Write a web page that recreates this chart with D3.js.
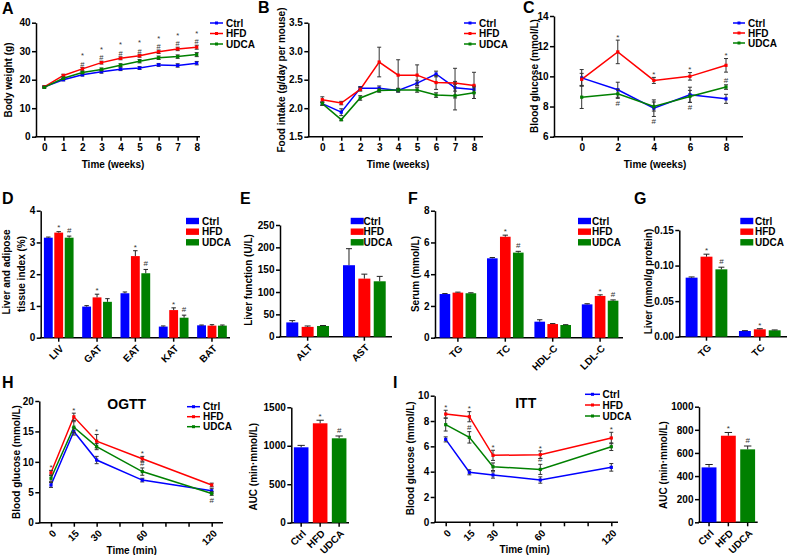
<!DOCTYPE html>
<html><head><meta charset="utf-8">
<script src="https://cdn.jsdelivr.net/npm/d3@7/dist/d3.min.js"></script>
<style>html,body{margin:0;padding:0;background:#fff;}svg{display:block;}</style>
</head><body>
<svg id="chart" width="787" height="555"></svg>
<script>
// ---------------- data ----------------
const groups = ["Ctrl", "HFD", "UDCA"];
const colors = ["#0000ff", "#ff0000", "#008000"];

// A: body weight (g)
const weeks = [0, 1, 2, 3, 4, 5, 6, 7, 8];
const bwCtrl = [17.5, 20.0, 21.7, 22.8, 23.7, 24.1, 25.2, 25.0, 25.8];
const bwHFD  = [17.5, 21.5, 23.8, 26.0, 27.5, 28.4, 29.8, 30.8, 31.4];
const bwUDCA = [17.3, 20.5, 22.5, 23.6, 25.1, 26.5, 27.7, 28.1, 28.8];
const bwErrCtrl = [0.3, 0.4, 0.4, 0.5, 0.5, 0.5, 0.5, 0.6, 0.6];
const bwErrHFD  = [0.3, 0.4, 0.5, 0.5, 0.5, 0.5, 0.6, 0.6, 0.7];
const bwErrUDCA = [0.3, 0.4, 0.4, 0.5, 0.5, 0.6, 0.6, 0.6, 0.7];
const bwTicks = [0, 10, 20, 30, 40];
// stacked marks ("*" over "#") above HFD
const bwMarks = [
  {x: 2, s: ["*", "#"], g: 1}, {x: 3, s: ["*", "#"], g: 1}, {x: 4, s: ["*", "#"], g: 1},
  {x: 5, s: ["*", "#"], g: 1}, {x: 6, s: ["*", "#"], g: 1}, {x: 7, s: ["*", "#"], g: 1},
  {x: 8, s: ["*", "#"], g: 1}
];

// B: food intake (g/day per mouse)
const fiCtrl = [2.08, 1.93, 2.35, 2.35, 2.31, 2.44, 2.60, 2.36, 2.33];
const fiHFD  = [2.15, 2.09, 2.33, 2.81, 2.58, 2.58, 2.45, 2.44, 2.40];
const fiUDCA = [2.08, 1.80, 2.18, 2.31, 2.32, 2.32, 2.23, 2.22, 2.27];
const fiErrCtrl = [0.03, 0.06, 0.03, 0.04, 0.03, 0.05, 0.05, 0.06, 0.06];
const fiErrHFD  = [0.05, 0.03, 0.03, 0.26, 0.27, 0.18, 0.12, 0.26, 0.23];
const fiErrUDCA = [0.03, 0.02, 0.04, 0.03, 0.03, 0.04, 0.04, 0.25, 0.10];
const fiTicks = [1.5, 2.0, 2.5, 3.0, 3.5];

// C: blood glucose (mmol/L)
const bgWeeks = [0, 2, 4, 6, 8];
const bgCtrl = [9.90, 9.11, 7.89, 8.78, 8.51];
const bgHFD  = [9.80, 11.62, 9.73, 10.00, 10.73];
const bgUDCA = [8.62, 8.84, 8.00, 8.67, 9.29];
const bgErrCtrl = [0.55, 0.50, 0.55, 0.50, 0.30];
const bgErrHFD  = [0.40, 0.78, 0.20, 0.25, 0.45];
const bgErrUDCA = [0.75, 0.30, 0.30, 0.40, 0.15];
const bgTicks = [6, 8, 10, 12, 14];
const bgMarks = [
  {x: 2, s: "*", g: 1, side: "above"}, {x: 4, s: "*", g: 1, side: "above"},
  {x: 6, s: "*", g: 1, side: "above"}, {x: 8, s: "*", g: 1, side: "above"},
  {x: 2, s: "#", g: 2, side: "below"}, {x: 4, s: "#", g: 0, side: "below"},
  {x: 6, s: "#", g: 2, side: "below"}, {x: 8, s: "#", g: 2, side: "above"}
];

// D: liver and adipose tissue index (%)
const tissueCats = ["LIV", "GAT", "EAT", "KAT", "BAT"];
const tissueCtrl = [3.15, 0.98, 1.40, 0.35, 0.39];
const tissueHFD  = [3.31, 1.27, 2.57, 0.87, 0.38];
const tissueUDCA = [3.15, 1.13, 2.03, 0.63, 0.38];
const tissueErrCtrl = [0.02, 0.03, 0.04, 0.02, 0.01];
const tissueErrHFD  = [0.03, 0.10, 0.17, 0.07, 0.03];
const tissueErrUDCA = [0.05, 0.10, 0.12, 0.08, 0.02];
const tissueMarks = [
  {c: 0, g: 1, s: "*"}, {c: 0, g: 2, s: "#"}, {c: 1, g: 1, s: "*"},
  {c: 2, g: 1, s: "*"}, {c: 2, g: 2, s: "#"}, {c: 3, g: 1, s: "*"}, {c: 3, g: 2, s: "#"}
];

// E: liver function (U/L)
const lfCats = ["ALT", "AST"];
const lfCtrl = [32, 160];
const lfHFD  = [22, 130];
const lfUDCA = [24, 124];
const lfErrCtrl = [4, 37];
const lfErrHFD  = [2, 10];
const lfErrUDCA = [1, 11];

// F: serum (mmol/L)
const serumCats = ["TG", "TC", "HDL-C", "LDL-C"];
const serumCtrl = [2.75, 5.00, 1.01, 2.10];
const serumHFD  = [2.84, 6.36, 0.86, 2.63];
const serumUDCA = [2.80, 5.36, 0.80, 2.33];
const serumErrCtrl = [0.03, 0.05, 0.12, 0.04];
const serumErrHFD  = [0.03, 0.10, 0.03, 0.07];
const serumErrUDCA = [0.03, 0.08, 0.02, 0.05];
const serumMarks = [{c: 1, g: 1, s: "*"}, {c: 1, g: 2, s: "#"}, {c: 3, g: 1, s: "*"}, {c: 3, g: 2, s: "#"}];

// G: liver lipids (mmol/g protein)
const llCats = ["TG", "TC"];
const llCtrl = [0.083, 0.008];
const llHFD  = [0.1125, 0.0104];
const llUDCA = [0.0947, 0.009];
const llErrCtrl = [0.001, 0.0005];
const llErrHFD  = [0.0035, 0.0008];
const llErrUDCA = [0.003, 0.0005];
const llMarks = [{c: 0, g: 1, s: "*"}, {c: 0, g: 2, s: "#"}, {c: 1, g: 1, s: "*"}];

// H: OGTT
const gttTimes = [0, 15, 30, 60, 120];
const gttTickVals = [0, 15, 30, 45, 60, 80, 100, 120];
const gttTickLabels = [0, 15, 30, 60, 120];
const ogttCtrl = [6.2, 15.0, 10.3, 7.0, 5.25];
const ogttHFD  = [8.2, 17.4, 13.4, 10.5, 6.2];
const ogttUDCA = [7.3, 15.7, 12.5, 8.4, 4.8];
const ogttErrCtrl = [0.4, 0.6, 0.6, 0.3, 0.4];
const ogttErrHFD  = [0.4, 0.6, 1.1, 0.4, 0.3];
const ogttErrUDCA = [0.5, 0.9, 0.5, 0.6, 0.3];
const ogttMarks = [
  {x: 0, s: "*", g: 1, side: "above"}, {x: 15, s: "*", g: 1, side: "above"},
  {x: 30, s: "*", g: 1, side: "above"}, {x: 60, s: "*", g: 1, side: "above"},
  {x: 60, s: "#", g: 2, side: "above"}, {x: 120, s: "#", g: 2, side: "below"}
];
const ogttAUC = [980, 1292, 1097];
const ogttAUCErr = [25, 40, 30];

// I: ITT
const ittCtrl = [6.55, 3.95, 3.74, 3.34, 4.34];
const ittHFD  = [8.55, 8.34, 5.29, 5.34, 6.66];
const ittUDCA = [7.71, 6.71, 4.39, 4.18, 5.97];
const ittErrCtrl = [0.20, 0.20, 0.25, 0.25, 0.30];
const ittErrHFD  = [0.30, 0.40, 0.40, 0.30, 0.45];
const ittErrUDCA = [0.50, 0.45, 0.30, 0.40, 0.30];
const ittMarks = [
  {x: 0, s: "*", g: 1, side: "above"}, {x: 15, s: "*", g: 1, side: "above"},
  {x: 15, s: "#", g: 2, side: "above"}, {x: 30, s: "*", g: 1, side: "above"},
  {x: 60, s: "*", g: 1, side: "above"}, {x: 60, s: "#", g: 2, side: "above"},
  {x: 120, s: "*", g: 1, side: "above"}
];
const ittAUC = [475, 749, 631];
const ittAUCErr = [25, 28, 29];
const aucMarks = [{c: 1, s: "*"}, {c: 2, s: "#"}];

// ---------------- drawing ----------------
const svg = d3.select("#chart");
const FONT = "'Liberation Sans', Arial, Helvetica, sans-serif";

function styleAxis(g) {
  g.attr("font-family", FONT).attr("font-size", 10).attr("font-weight", "bold");
  g.select(".domain").attr("stroke", "#000").attr("stroke-width", 1.5);
  g.selectAll(".tick line").attr("stroke", "#000").attr("stroke-width", 1.5);
  g.selectAll(".tick text").attr("fill", "#000");
}
function label(x, y, s, o = {}) {
  const t = svg.append("text").attr("x", x).attr("y", y).text(s)
    .attr("font-family", FONT).attr("font-weight", o.weight || "bold")
    .attr("font-size", o.fs || 10).attr("text-anchor", o.anchor || "middle")
    .attr("fill", o.fill || "#000");
  if (o.central) t.attr("dominant-baseline", "central");
  if (o.rot) t.attr("transform", `rotate(${o.rot},${x},${y})`);
  return t;
}
const AFS = 8;
function annot(cx, cy, s, fs) {
  fs = fs || AFS;
  const base = s === "*" ? cy + 0.6 * fs : cy + 0.36 * fs;
  label(cx, base, s, {fs, weight: "normal", fill: "#333"});
}
// "*" stacked over "#"; cy = centre of the lower "#"
function annotStack(cx, cy) {
  const fs = 7.5;
  const hashBase = cy + 0.36 * fs;
  label(cx, hashBase, "#", {fs, weight: "normal", fill: "#333"});
  label(cx, hashBase - 8.7, "*", {fs, weight: "normal", fill: "#333"});
}
function hline(x1, x2, y) {
  svg.append("line").attr("x1", x1).attr("x2", x2).attr("y1", y).attr("y2", y)
    .attr("stroke", "#000").attr("stroke-width", 1.5);
}

function linePanel(o) {
  const x = d3.scaleLinear().domain(o.xd).range(o.xr);
  const y = d3.scaleLinear().domain(o.yd).range(o.yr);
  const ya = svg.append("g").attr("transform", `translate(${o.ax},0)`)
    .call(d3.axisLeft(y).tickValues(o.yt).tickSize(4).tickSizeOuter(0).tickPadding(1.5)
      .tickFormat(d3.format(o.yf)));
  styleAxis(ya);
  const xa = svg.append("g").attr("transform", `translate(0,${o.yr[0]})`)
    .call(d3.axisBottom(x).tickValues(o.xt).tickSize(4).tickSizeOuter(0).tickPadding(3)
      .tickFormat(d => (o.xl ? (o.xl.includes(d) ? d : "") : d)));
  styleAxis(xa);
  xa.select(".domain").remove();
  hline(o.ax - 0.75, o.axEnd, o.yr[0]);
  if (o.rotX) xa.selectAll(".tick text").attr("text-anchor", "end").attr("y", 0)
    .attr("dy", "0.35em").attr("transform", "translate(3,9) rotate(-45)");
  const line = d3.line().x((d, i) => x(o.xs[i])).y(d => y(d));
  o.series.forEach((vals, si) => {
    svg.append("path").datum(vals).attr("d", line).attr("fill", "none")
      .attr("stroke", colors[si]).attr("stroke-width", 1.5);
  });
  o.series.forEach((vals, si) => {
    vals.forEach((v, i) => {
      const cx = x(o.xs[i]), e = o.errs[si][i];
      const y1 = y(v + e), y2 = y(v - e);
      svg.append("line").attr("x1", cx).attr("x2", cx).attr("y1", y1).attr("y2", y2)
        .attr("stroke", "#333").attr("stroke-width", 1);
      [y1, y2].forEach(yy => svg.append("line").attr("x1", cx - 2).attr("x2", cx + 2)
        .attr("y1", yy).attr("y2", yy).attr("stroke", "#333").attr("stroke-width", 1));
      svg.append("rect").attr("x", cx - 1.6).attr("y", y(v) - 1.6).attr("width", 3.2)
        .attr("height", 3.2).attr("fill", colors[si]);
    });
  });
  (o.marks || []).forEach(m => {
    const i = o.xs.indexOf(m.x);
    const v = o.series[m.g][i], e = o.errs[m.g][i];
    if (Array.isArray(m.s)) { annotStack(x(m.x), y(v + e) - 3.5); return; }
    const cy = (m.side || "above") === "above" ? y(v + e) - 5 : y(v - e) + 5;
    annot(x(m.x), cy, m.s);
  });
}

function barPanel(o) {
  const x0 = d3.scaleBand().domain(o.cats).range(o.xr).paddingInner(o.pi).paddingOuter(o.po);
  const y = d3.scaleLinear().domain(o.yd).range(o.yr);
  const x1 = d3.scaleBand().domain([0, 1, 2]).range([0, x0.bandwidth()]).paddingInner(o.sp || 0);
  const ya = svg.append("g").attr("transform", `translate(${o.xr[0]},0)`)
    .call(d3.axisLeft(y).tickValues(o.yt).tickSize(4).tickSizeOuter(0).tickPadding(1.5)
      .tickFormat(d3.format(o.yf || "d")));
  styleAxis(ya);
  const xa = svg.append("g").attr("transform", `translate(0,${o.yr[0]})`)
    .call(d3.axisBottom(x0).tickSize(4).tickSizeOuter(0).tickPadding(3));
  styleAxis(xa);
  xa.select(".domain").remove();
  hline(o.xr[0] - 0.75, o.xr[1], o.yr[0]);
  xa.selectAll(".tick text").attr("text-anchor", "end").attr("y", 0).attr("dy", "0.35em")
    .attr("transform", "translate(3,9) rotate(-45)");
  const bars = [];
  if (o.single) {
    o.vals.forEach((v, ci) => bars.push({x: x0(o.cats[ci]), w: x0.bandwidth(), v, e: o.errs[ci], col: colors[ci], c: ci, g: ci}));
  } else {
    o.series.forEach((vals, si) => vals.forEach((v, ci) =>
      bars.push({x: x0(o.cats[ci]) + x1(si), w: x1.bandwidth(), v, e: o.errs[si][ci], col: colors[si], c: ci, g: si})));
  }
  bars.forEach(b => {
    svg.append("rect").attr("x", b.x).attr("y", y(b.v)).attr("width", b.w)
      .attr("height", y(o.yd[0]) - y(b.v)).attr("fill", b.col);
    const cx = b.x + b.w / 2, yt = y(b.v + b.e);
    svg.append("line").attr("x1", cx).attr("x2", cx).attr("y1", y(b.v)).attr("y2", yt)
      .attr("stroke", "#222").attr("stroke-width", 1);
    svg.append("line").attr("x1", cx - b.w * 0.25).attr("x2", cx + b.w * 0.25).attr("y1", yt).attr("y2", yt)
      .attr("stroke", "#222").attr("stroke-width", 1);
  });
  (o.marks || []).forEach(m => {
    const b = bars.find(d => d.c === m.c && (o.single || d.g === m.g));
    annot(b.x + b.w / 2, y(b.v + b.e) - 6, m.s);
  });
}

function lineLegend(x0, x1, tx, ys) {
  groups.forEach((g, i) => {
    svg.append("line").attr("x1", x0).attr("x2", x1).attr("y1", ys[i]).attr("y2", ys[i])
      .attr("stroke", colors[i]).attr("stroke-width", 1.5);
    svg.append("rect").attr("x", (x0 + x1) / 2 - 1.5).attr("y", ys[i] - 1.5).attr("width", 3)
      .attr("height", 3).attr("fill", colors[i]);
    label(tx, ys[i], g, {anchor: "start", central: true});
  });
}
function barLegend(x0, tx, ys) {
  groups.forEach((g, i) => {
    svg.append("rect").attr("x", x0).attr("y", ys[i] - 3.2).attr("width", 13)
      .attr("height", 6.4).attr("fill", colors[i]);
    label(tx, ys[i], g, {anchor: "start", central: true});
  });
}

// ---- Panel A ----
label(2, 14, "A", {fs: 16, anchor: "start"});
linePanel({xd: [0, 8], xr: [44.3, 196.7], yd: [0, 40], yr: [136.7, 22.7], ax: 36, axEnd: 200,
  yt: bwTicks, yf: "d", xt: weeks, xs: weeks,
  series: [bwCtrl, bwHFD, bwUDCA], errs: [bwErrCtrl, bwErrHFD, bwErrUDCA], marks: bwMarks});
label(8, 80, "Body weight (g)", {rot: -90, central: true});
label(113, 164, "Time (weeks)", {central: true});
lineLegend(210, 223, 226, [23, 33.5, 44]);

// ---- Panel B ----
label(258, 13, "B", {fs: 16, anchor: "start"});
linePanel({xd: [0, 8], xr: [322.3, 474], yd: [1.5, 3.5], yr: [136.7, 22.7], ax: 308.3, axEnd: 483,
  yt: fiTicks, yf: ".1f", xt: weeks, xs: weeks,
  series: [fiCtrl, fiHFD, fiUDCA], errs: [fiErrCtrl, fiErrHFD, fiErrUDCA]});
label(281.5, 80, "Food intake (g/day per mouse)", {rot: -90, central: true});
label(398, 164, "Time (weeks)", {central: true});
lineLegend(464, 476, 479, [23, 33.5, 44]);

// ---- Panel C ----
label(523, 13, "C", {fs: 16, anchor: "start"});
linePanel({xd: [0, 8], xr: [581.7, 726], yd: [6, 14], yr: [136.7, 16], ax: 554, axEnd: 743,
  yt: bgTicks, yf: "d", xt: [0, 2, 4, 6, 8], xs: bgWeeks,
  series: [bgCtrl, bgHFD, bgUDCA], errs: [bgErrCtrl, bgErrHFD, bgErrUDCA], marks: bgMarks});
label(534, 76, "Blood glucose (mmol/L)", {rot: -90, central: true});
label(655, 164, "Time (weeks)", {central: true});
lineLegend(733, 745, 748, [23, 33, 43]);

// ---- Panel D ----
label(2, 204, "D", {fs: 16, anchor: "start"});
barPanel({cats: tissueCats, xr: [40.7, 230], pi: 0.225, po: 0.083, sp: 0.15,
  yd: [0, 4], yr: [337.7, 210.7], yt: [0, 1, 2, 3, 4],
  series: [tissueCtrl, tissueHFD, tissueUDCA], errs: [tissueErrCtrl, tissueErrHFD, tissueErrUDCA], marks: tissueMarks});
label(6, 272, "Liver and adipose", {rot: -90, central: true});
label(21.5, 274, "tissue index (%)", {rot: -90, central: true});
barLegend(186, 202, [221, 231.7, 242.3]);

// ---- Panel E ----
label(240, 204, "E", {fs: 16, anchor: "start"});
barPanel({cats: lfCats, xr: [280, 392], pi: 0.247, po: 0.111, sp: 0.22,
  yd: [0, 250], yr: [336.7, 225], yt: [0, 50, 100, 150, 200, 250],
  series: [lfCtrl, lfHFD, lfUDCA], errs: [lfErrCtrl, lfErrHFD, lfErrUDCA]});
label(248, 280, "Liver function (U/L)", {rot: -90, central: true});
barLegend(350.7, 363.5, [221, 231.7, 242.3]);

// ---- Panel F ----
label(408, 204, "F", {fs: 16, anchor: "start"});
barPanel({cats: serumCats, xr: [435, 623], pi: 0.228, po: 0.097, sp: 0.18,
  yd: [0, 8], yr: [337.7, 210.7], yt: [0, 2, 4, 6, 8],
  series: [serumCtrl, serumHFD, serumUDCA], errs: [serumErrCtrl, serumErrHFD, serumErrUDCA], marks: serumMarks});
label(415.5, 274, "Serum (mmol/L)", {rot: -90, central: true});
barLegend(578, 592, [221, 231.7, 242.3]);

// ---- Panel G ----
label(634, 204, "G", {fs: 16, anchor: "start"});
barPanel({cats: llCats, xr: [679.3, 787], pi: 0.218, po: 0.119, sp: 0.2,
  yd: [0, 0.15], yr: [336.7, 230], yt: [0, 0.05, 0.10, 0.15], yf: ".2f",
  series: [llCtrl, llHFD, llUDCA], errs: [llErrCtrl, llErrHFD, llErrUDCA], marks: llMarks});
label(648, 281.5, "Liver (mmol/g protein)", {rot: -90, central: true});
barLegend(740.3, 755, [221, 231.7, 242.3]);

// ---- Panel H ----
label(2, 388, "H", {fs: 16, anchor: "start"});
linePanel({xd: [0, 60, 120], xr: [51, 142.3, 211.7], yd: [0, 20], yr: [522.7, 401], ax: 39.3, axEnd: 223,
  yt: [0, 5, 10, 15, 20], yf: "d", xt: gttTickVals, xl: gttTickLabels, xs: gttTimes, rotX: true,
  series: [ogttCtrl, ogttHFD, ogttUDCA], errs: [ogttErrCtrl, ogttErrHFD, ogttErrUDCA], marks: ogttMarks});
label(126.7, 403.5, "OGTT", {fs: 14, central: true});
label(16, 462, "Blood glucose (mmol/L)", {rot: -90, central: true});
label(131.7, 550, "Time (min)", {central: true});
lineLegend(187, 200, 203, [406.7, 416.7, 426.7]);

barPanel({cats: groups, single: true, xr: [291.3, 349], pi: 0.23, po: 0.135,
  yd: [0, 1500], yr: [522.7, 407.3], yt: [0, 500, 1000, 1500],
  vals: ogttAUC, errs: ogttAUCErr, marks: aucMarks});
label(254, 466.7, "AUC (min·mmol/L)", {rot: -90, central: true});

// ---- Panel I ----
label(393, 388, "I", {fs: 16, anchor: "start"});
linePanel({xd: [0, 60, 120], xr: [445.7, 540.3, 611.3], yd: [0, 10], yr: [522.3, 395.7], ax: 434.7, axEnd: 618,
  yt: [0, 2, 4, 6, 8, 10], yf: "d", xt: gttTickVals, xl: gttTickLabels, xs: gttTimes, rotX: true,
  series: [ittCtrl, ittHFD, ittUDCA], errs: [ittErrCtrl, ittErrHFD, ittErrUDCA], marks: ittMarks});
label(525.7, 403, "ITT", {fs: 14, central: true});
label(410.7, 458.3, "Blood glucose (mmol/L)", {rot: -90, central: true});
label(524.7, 549.5, "Time (min)", {central: true});
lineLegend(585, 600, 602.5, [394.3, 405, 416]);

barPanel({cats: groups, single: true, xr: [699, 757.7], pi: 0.23, po: 0.135,
  yd: [0, 1000], yr: [522.3, 406.7], yt: [0, 200, 400, 600, 800, 1000],
  vals: ittAUC, errs: ittAUCErr, marks: aucMarks});
label(663.3, 465, "AUC (min·mmol/L)", {rot: -90, central: true});
</script>
</body></html>
